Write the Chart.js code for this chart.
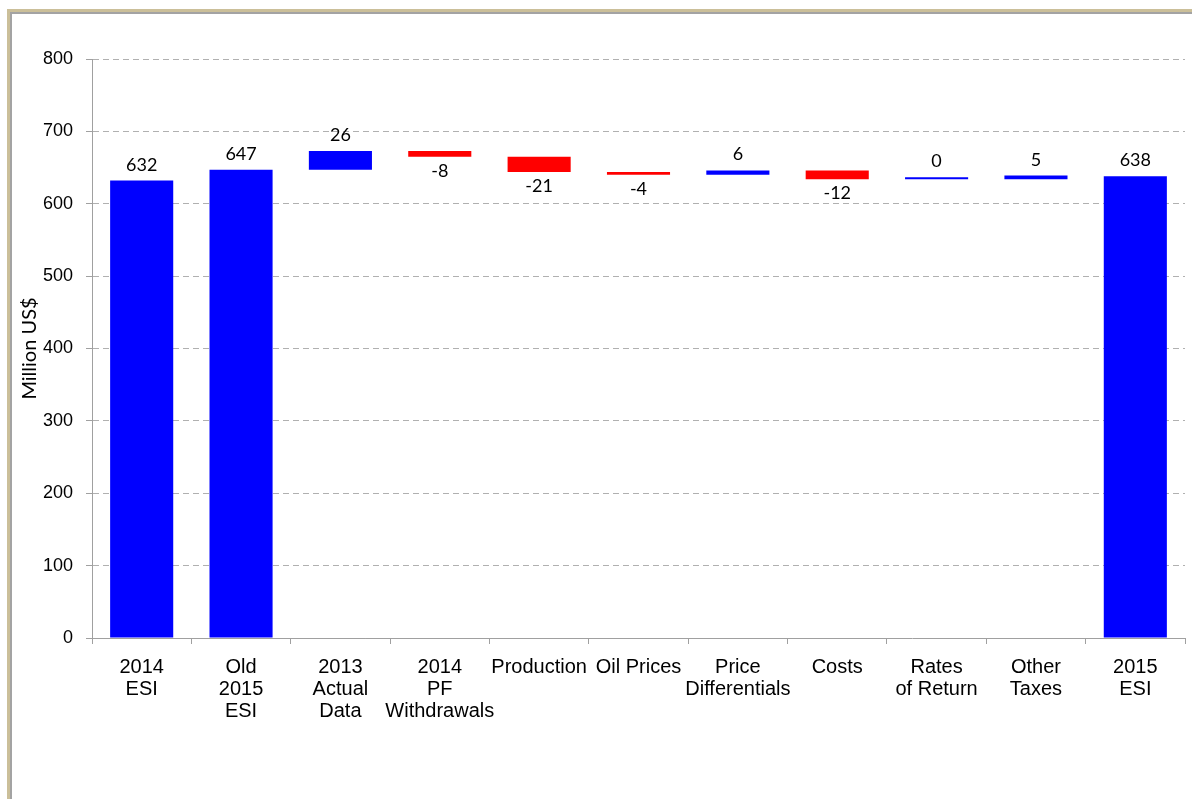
<!DOCTYPE html>
<html>
<head>
<meta charset="utf-8">
<title>ESI waterfall</title>
<script src="https://cdn.jsdelivr.net/npm/chart.js@4/dist/chart.umd.min.js"></script>
<style>
  html, body { margin: 0; padding: 0; background: #ffffff; width: 1192px; height: 799px; overflow: hidden; }
  #frame {
    position: absolute; left: 7px; top: 9px; right: 0; bottom: 0;
    border-left: 3px solid #cbbf99; border-top: 3px solid #cbbf99;
  }
  #inner {
    position: absolute; left: 0; top: 0; right: 0; bottom: 0;
    border-left: 2px solid #a3a3a3; border-top: 2px solid #a3a3a3;
  }
  #box { position: absolute; left: 0; top: 0; width: 1180px; height: 785px; }
</style>
</head>
<body>
<div id="frame"><div id="inner"><div id="box"><canvas id="chart"></canvas></div></div></div>
<script>
// Bridge from the 2014 ESI to the 2015 ESI, in million US$
const categories = [
  ['2014', 'ESI'],
  ['Old', '2015', 'ESI'],
  ['2013', 'Actual', 'Data'],
  ['2014', 'PF', 'Withdrawals'],
  'Production',
  'Oil Prices',
  ['Price', 'Differentials'],
  'Costs',
  ['Rates', 'of Return'],
  ['Other', 'Taxes'],
  ['2015', 'ESI']
];
const changes = [632, 647, 26, -8, -21, -4, 6, -12, 0, 5, 638];
const isTotal = [true, true, false, false, false, false, false, false, false, false, true];
const yMin = 0;
const yMax = 800;
const yStep = 100;

// Floating [start, end] ranges: totals stand on zero, changes walk from the running level
const ranges = [];
let level = 0;
changes.forEach((v, i) => {
  if (isTotal[i]) {
    ranges.push([0, v]);
    level = v;
  } else {
    ranges.push([level, level + v]);
    level += v;
  }
});
const barColors = changes.map((v, i) => (isTotal[i] || v >= 0) ? '#0000ff' : '#ff0000');

// Value labels: above totals and increases, below decreases
const valueLabels = {
  id: 'valueLabels',
  afterDatasetsDraw(chart) {
    const meta = chart.getDatasetMeta(0);
    const ctx = chart.ctx;
    ctx.save();
    ctx.font = '18px Lato';
    ctx.fillStyle = '#000000';
    ctx.textAlign = 'center';
    ctx.textBaseline = 'alphabetic';
    meta.data.forEach((bar, i) => {
      const top = Math.min(bar.y, bar.base);
      const bottom = Math.max(bar.y, bar.base);
      const v = changes[i];
      if (isTotal[i] || v >= 0) {
        ctx.fillText(String(v), bar.x, top - 10);
      } else {
        ctx.fillText(String(v), bar.x, bottom + 20);
      }
    });
    ctx.restore();
  }
};

new Chart(document.getElementById('chart'), {
  type: 'bar',
  data: {
    labels: categories,
    datasets: [{
      data: ranges,
      backgroundColor: barColors,
      borderWidth: 0,
      borderSkipped: false,
      minBarLength: 2,
      categoryPercentage: 0.635,
      barPercentage: 1.0
    }]
  },
  options: {
    responsive: true,
    maintainAspectRatio: false,
    animation: false,
    layout: { padding: { top: 45, right: 7, left: 0, bottom: 0 } },
    plugins: {
      legend: { display: false },
      tooltip: { enabled: false }
    },
    scales: {
      x: {
        offset: true,
        grid: {
          offset: true,
          drawOnChartArea: false,
          drawTicks: true,
          tickLength: 6,
          color: '#a0a0a0'
        },
        border: { display: true, color: '#a0a0a0', width: 1 },
        ticks: {
          color: '#000000',
          font: { family: '"Liberation Sans", Arial, sans-serif', size: 20, lineHeight: 1.1 },
          padding: 12,
          maxRotation: 0,
          minRotation: 0,
          autoSkip: false
        },
        afterFit(scale) { scale.height = 161; }
      },
      y: {
        min: yMin,
        max: yMax,
        grid: {
          color: '#b0b0b0',
          tickBorderDash: [],
          tickColor: '#a0a0a0',
          tickLength: 6,
          drawTicks: true
        },
        // in Chart.js v4 the grid line dash comes from border.dash
        border: { display: true, color: '#a0a0a0', width: 1, dash: [6, 4] },
        ticks: {
          stepSize: yStep,
          color: '#000000',
          font: { family: '"Liberation Sans", Arial, sans-serif', size: 18 },
          padding: 13
        },
        title: {
          display: true,
          text: 'Million US$',
          color: '#000000',
          font: { family: 'Lato', size: 20 },
          padding: { top: 6, bottom: 0 }
        },
        afterFit(scale) { scale.width = 80; }
      }
    }
  },
  plugins: [valueLabels]
});
</script>
</body>
</html>
